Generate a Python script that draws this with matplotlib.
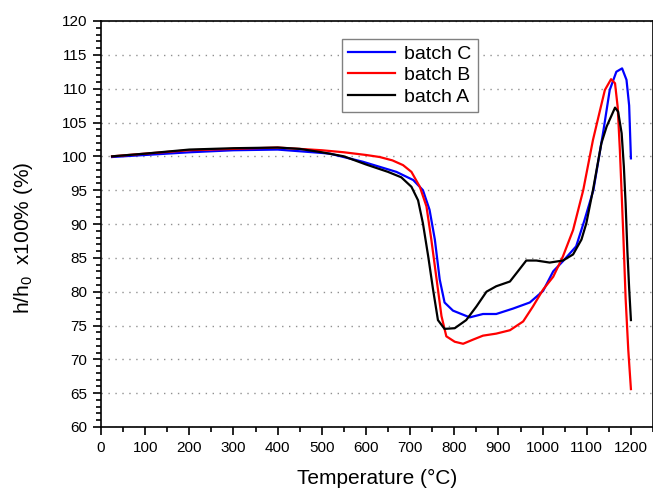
"""Height ratio h/h0 versus temperature for three batches."""

import matplotlib

matplotlib.use("Agg")
import matplotlib.pyplot as plt
from matplotlib.ticker import MultipleLocator

# values
temp_a = [25, 100, 200, 300, 400, 450, 500, 550, 600, 650, 680, 703, 718, 729,
          741, 752, 763, 778, 801, 827, 850, 873, 895, 926, 944, 963, 986, 1016,
          1046, 1069, 1088, 1099, 1114, 1133, 1145, 1164, 1171, 1179, 1184,
          1188, 1192, 1196, 1200]
h_a = [100.0, 100.4, 101.0, 101.2, 101.3, 101.1, 100.6, 100.0, 98.8, 97.7,
       96.9, 95.5, 93.5, 90.1, 85.2, 80.3, 75.8, 74.5, 74.6, 75.8, 77.8, 80.0,
       80.8, 81.5, 83.0, 84.6, 84.6, 84.3, 84.6, 85.5, 87.7, 90.1, 95.0, 101.9,
       104.4, 107.2, 106.6, 103.4, 98.5, 93.0, 86.0, 80.5, 75.8]

temp_b = [25, 100, 200, 300, 400, 500, 550, 600, 631, 660, 684, 703, 722, 737,
          748, 760, 771, 782, 801, 820, 842, 865, 895, 926, 956, 978, 1001,
          1024, 1046, 1069, 1092, 1114, 1130, 1141, 1155, 1164, 1170, 1175,
          1179, 1183, 1188, 1194, 1200]
h_b = [100.0, 100.4, 100.9, 101.1, 101.3, 100.9, 100.6, 100.2, 99.9, 99.4,
       98.7, 97.7, 95.5, 92.6, 87.7, 81.8, 76.4, 73.4, 72.6, 72.3, 72.9, 73.5,
       73.8, 74.3, 75.6, 77.8, 80.3, 82.2, 85.2, 89.1, 95.0, 102.4, 106.8,
       109.8, 111.4, 110.8, 107.3, 100.9, 94.5, 88.0, 79.0, 71.4, 65.6]

temp_c = [25, 100, 200, 300, 400, 500, 518, 593, 669, 707, 729, 744, 756, 767,
          778, 797, 835, 865, 895, 933, 971, 1001, 1024, 1046, 1076, 1095,
          1115, 1137, 1152, 1167, 1180, 1190, 1196, 1200]
h_c = [99.9, 100.2, 100.6, 100.9, 101.0, 100.5, 100.4, 99.2, 97.7, 96.5, 95.0,
       92.1, 87.7, 81.8, 78.4, 77.2, 76.2, 76.7, 76.7, 77.5, 78.4, 80.1, 83.0,
       84.5, 86.7, 90.6, 95.0, 103.5, 109.8, 112.5, 113.0, 111.3, 107.5, 99.7]

plt.rcParams["font.family"] = ["Liberation Sans", "DejaVu Sans"]

fig = plt.figure(figsize=(6.53, 4.88), dpi=100)
ax = fig.add_axes([101 / 653, 61 / 488, 552 / 653, 406 / 488])

ax.plot(temp_c, h_c, color="#0000ff", lw=1.6, label="batch C")
ax.plot(temp_b, h_b, color="#ff0000", lw=1.6, label="batch B")
ax.plot(temp_a, h_a, color="#000000", lw=1.6, label="batch A")

ax.set_xlim(0, 1250)
ax.set_ylim(60, 120)
ax.xaxis.set_major_locator(MultipleLocator(100))
ax.xaxis.set_minor_locator(MultipleLocator(50))
ax.yaxis.set_major_locator(MultipleLocator(5))
ax.yaxis.set_minor_locator(MultipleLocator(1))
ax.tick_params(which="both", direction="out", top=False, right=False,
               labelsize=11, width=1.2)
ax.tick_params(which="major", length=6, pad=4)
ax.tick_params(which="minor", length=3.5)
for sp in ax.spines.values():
    sp.set_linewidth(1.2)

ax.yaxis.grid(True, color="#909090", linestyle=(0, (1, 4)), linewidth=1)
ax.set_axisbelow(True)

ax.set_xlabel("Temperature (°C)", fontsize=15, labelpad=10)
ax.set_ylabel("h/h$_\\mathregular{0}$  x100% (%)", fontsize=15)
ax.yaxis.set_label_coords(-0.12, 0.465)

leg = ax.legend(loc="upper left", bbox_to_anchor=(0.437, 0.955), fontsize=14,
                fancybox=False, framealpha=1, edgecolor="#808080",
                handlelength=2.4, handletextpad=0.5, labelspacing=0.2,
                borderpad=0.3, borderaxespad=0)
leg.get_frame().set_linewidth(1.0)

fig.savefig("out.png", dpi=100)
